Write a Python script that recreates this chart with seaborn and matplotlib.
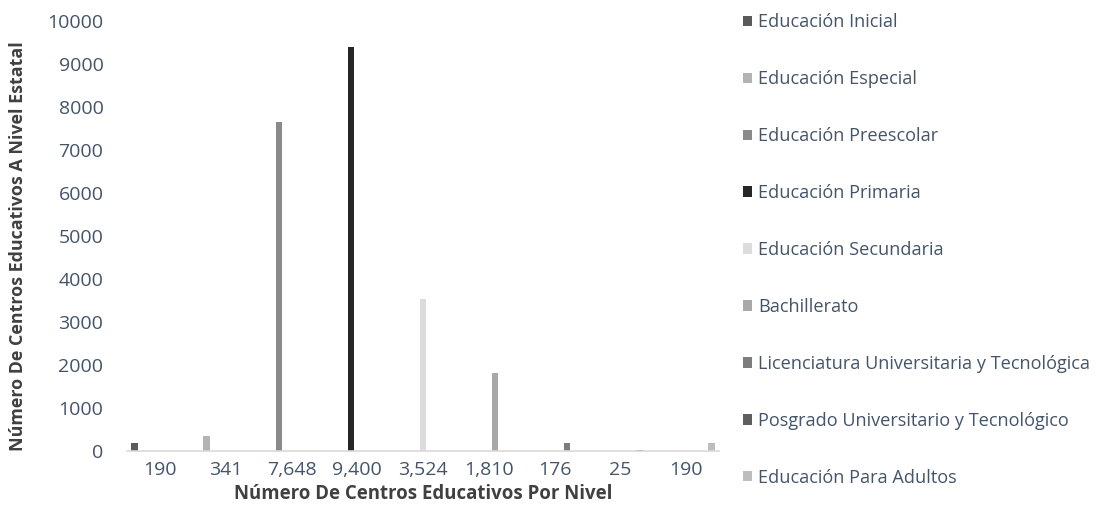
import matplotlib
matplotlib.use("Agg")
import matplotlib.pyplot as plt
import seaborn as sns
import pandas as pd
from matplotlib.patches import Patch

series = ["Educación Inicial", "Educación Especial", "Educación Preescolar",
          "Educación Primaria", "Educación Secundaria", "Bachillerato",
          "Licenciatura Universitaria y Tecnológica",
          "Posgrado Universitario y Tecnológico", "Educación Para Adultos"]
values = [190, 341, 7648, 9400, 3524, 1810, 176, 25, 190]
tick_labels = ["190", "341", "7,648", "9,400", "3,524", "1,810", "176", "25", "190"]
colors = ["#5a5a5a", "#b3b3b3", "#8a8a8a", "#262626", "#dcdcdc",
          "#a8a8a8", "#7d7d7d", "#5e5e5e", "#bdbdbd"]

sns.set_theme(style="white")
plt.rcParams['font.family'] = ['Open Sans', 'DejaVu Sans']

rows = []
for ci in range(len(values)):
    for si, s in enumerate(series):
        rows.append({"cat": ci, "serie": s, "val": values[ci] if ci == si else 0})
df = pd.DataFrame(rows)

fig = plt.figure(figsize=(10.99, 5.25), dpi=100)
ax = fig.add_axes([127/1099, 1-451/525, (719-127)/1099, (451-21)/525])
sns.barplot(data=df, x="cat", y="val", hue="serie", hue_order=series,
            order=list(range(len(values))), palette=colors, width=0.867,
            dodge=True, ax=ax, legend=False, saturation=1, linewidth=0)

ax.set_xlabel("")
ax.set_ylabel("")
ax.set_ylim(0, 10000)
ax.set_xlim(-0.5, len(values) - 0.5)
ax.set_yticks(range(0, 10001, 1000))
ax.set_yticklabels([str(v) for v in range(0, 10001, 1000)])
ax.set_xticks(range(len(values)))
ax.set_xticklabels(tick_labels)
txt = "#44546a"
ax.tick_params(axis="y", length=0, pad=17, labelsize=14, labelcolor=txt)
ax.tick_params(axis="x", length=0, pad=7, labelsize=14, labelcolor=txt)
for side in ["top", "right", "left"]:
    ax.spines[side].set_visible(False)
ax.spines["bottom"].set_color("#d9d9d9")
ax.spines["bottom"].set_linewidth(1.2)
ax.grid(False)

fig.text(18/1099, 1-246/525, "Número De Centros Educativos A Nivel Estatal",
         rotation=90, ha="center", va="center", fontsize=12.9, fontweight="bold", color="#404040")
fig.text(423/1099, 1-494/525, "Número De Centros Educativos Por Nivel",
         ha="center", va="center", fontsize=13.4, fontweight="bold", color="#404040")

handles = [Patch(facecolor=c, edgecolor="none", label=s) for s, c in zip(series, colors)]
leg = fig.legend(handles=handles, loc="upper left", bbox_to_anchor=(736/1099, 1-6/525),
                 frameon=False, fontsize=13.1, labelspacing=2.14, handlelength=0.5,
                 handleheight=0.5, handletextpad=0.3, borderaxespad=0)
for t in leg.get_texts():
    t.set_color(txt)

fig.savefig("out.png", dpi=100)
